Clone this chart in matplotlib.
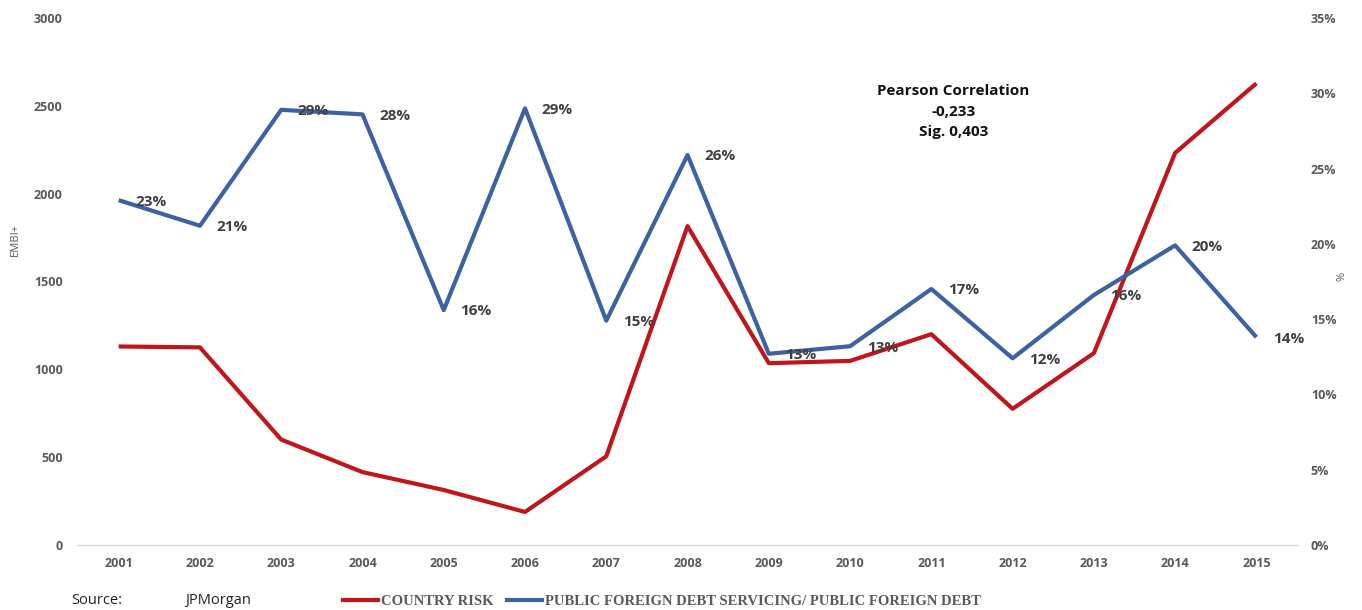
import matplotlib
matplotlib.use("Agg")
import matplotlib.pyplot as plt
from matplotlib.lines import Line2D

years = ["2001", "2002", "2003", "2004", "2005", "2006", "2007", "2008",
         "2009", "2010", "2011", "2012", "2013", "2014", "2015"]
country_risk = [1130, 1125, 600, 415, 313, 188, 505, 1815,
                1035, 1048, 1200, 775, 1092, 2232, 2628]
debt_ratio = [22.9, 21.2, 28.9, 28.6, 15.6, 29.0, 14.9, 25.9,
              12.7, 13.2, 17.0, 12.4, 16.6, 19.9, 13.8]
debt_labels = ["23%", "21%", "29%", "28%", "16%", "29%", "15%", "26%",
               "13%", "13%", "17%", "12%", "16%", "20%", "14%"]
left_ticks = [0, 500, 1000, 1500, 2000, 2500, 3000]
right_ticks = [0, 5, 10, 15, 20, 25, 30, 35]

RED = "#C0161B"
BLUE = "#3C62A4"
TICK = "#595959"
FONT = ["Open Sans", "DejaVu Sans"]

fig = plt.figure(figsize=(13.62, 6.10), dpi=100)
ax = fig.add_axes([0.0573, 0.1066, 0.8950, 0.8639])
ax2 = ax.twinx()

x = list(range(1, len(years) + 1))
ax.plot(x, country_risk, color=RED, lw=3.0, solid_capstyle="butt", zorder=3)
ax2.plot(x, debt_ratio, color=BLUE, lw=3.0, solid_capstyle="butt", zorder=3)

for xi, yi, lab in zip(x, debt_ratio, debt_labels):
    ax2.annotate(lab, (xi, yi), xytext=(12, -1), textcoords="offset points",
                 ha="left", va="center", fontsize=11, fontweight="bold",
                 color="#404040", family=FONT, zorder=5)

ax.set_xlim(0.5, len(years) + 0.5)
ax.set_ylim(0, 3000)
ax2.set_ylim(0, 35)
ax.set_xticks(x)
ax.set_xticklabels(years)
ax.set_yticks(left_ticks)
ax2.set_yticks(right_ticks)
ax2.set_yticklabels([f"{t}%" for t in right_ticks])

for a in (ax, ax2):
    for s in a.spines.values():
        s.set_visible(False)
    a.tick_params(length=0, colors=TICK)
    for lab in a.get_xticklabels() + a.get_yticklabels():
        lab.set_fontsize(9)
        lab.set_fontweight("bold")
        lab.set_family(FONT)
        lab.set_color(TICK)
ax.spines["bottom"].set_visible(True)
ax.spines["bottom"].set_color("#D9D9D9")
ax.spines["bottom"].set_linewidth(1)
ax.tick_params(axis="x", pad=9)
ax.tick_params(axis="y", pad=11)
ax2.tick_params(axis="y", pad=10)

ax.set_ylabel("EMBI+", fontsize=8, color=TICK, family=FONT)
ax.yaxis.set_label_coords(-0.047, 0.58)
ax2.set_ylabel("%", fontsize=8, color=TICK, family=FONT, rotation=90)
ax2.yaxis.set_label_coords(1.032, 0.51)

fig.text(0.700, 0.817, "Pearson Correlation\n-0,233\nSig. 0,403", ha="center",
         va="center", fontsize=11, fontweight="bold", family=FONT,
         color="#111111", linespacing=1.6)

handles = [Line2D([], [], color=RED, lw=3.0), Line2D([], [], color=BLUE, lw=3.0)]
leg = fig.legend(handles, ["COUNTRY RISK", "PUBLIC FOREIGN DEBT SERVICING/ PUBLIC FOREIGN DEBT"],
                 loc="center", bbox_to_anchor=(0.486, 0.014), ncol=2, frameon=False,
                 handlelength=2.4, handletextpad=0.2, columnspacing=0.9,
                 prop={"family": ["Liberation Serif"], "weight": "bold", "size": 10.5})
for t in leg.get_texts():
    t.set_color("#595959")

fig.text(0.052, 0.016, "Source:", fontsize=10.5, family=FONT, color="#222222", va="center")
fig.text(0.136, 0.016, "JPMorgan", fontsize=10.5, family=FONT, color="#222222", va="center")

fig.savefig("out.png", dpi=100)
